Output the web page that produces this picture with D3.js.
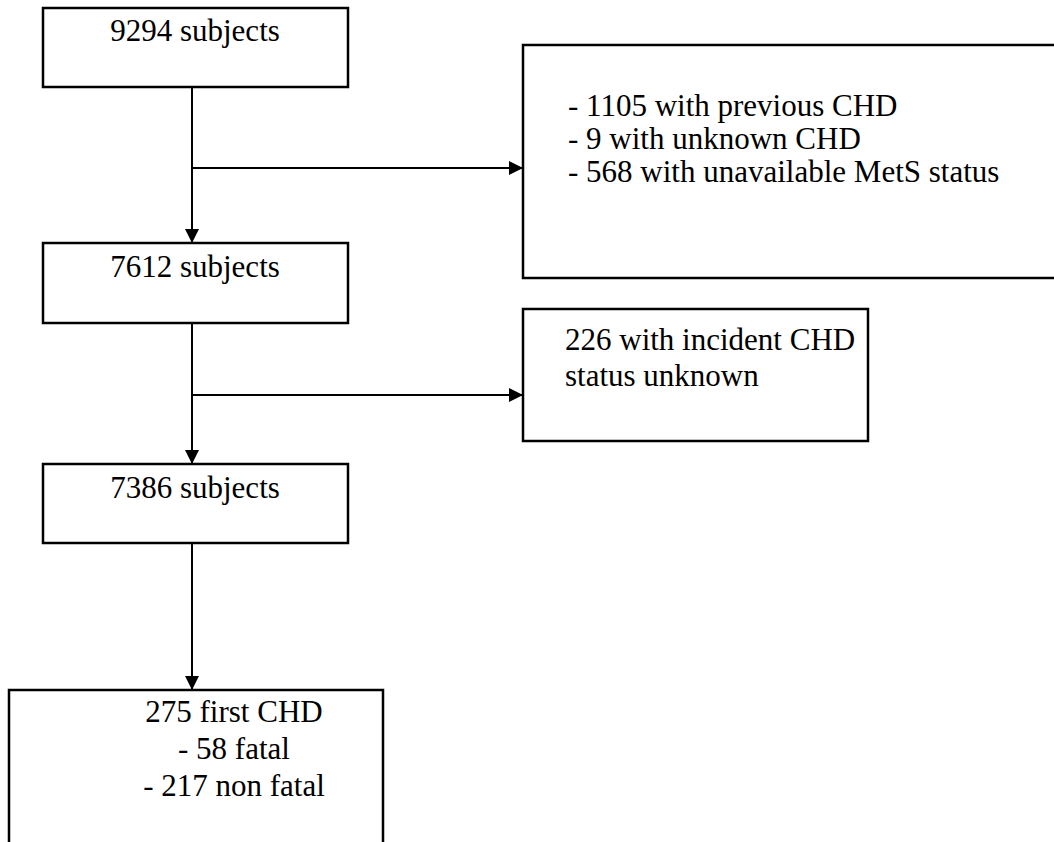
<!DOCTYPE html>
<html>
<head>
<meta charset="utf-8">
<script src="https://cdn.jsdelivr.net/npm/d3@7"></script>
<style>
  body { margin: 0; background: #fff; }
</style>
</head>
<body>
<script>
var w = 1054;
var h = 842;
var font = "'Liberation Serif', 'Times New Roman', Times, serif";

// boxes of the flow: id, label lines, text alignment
var boxIds = ["all", "excl1", "step2", "excl2", "step3", "outcome"];
var boxLines = [
    ["9294 subjects"],
    ["- 1105 with previous CHD", "- 9 with unknown CHD", "- 568 with unavailable MetS status"],
    ["7612 subjects"],
    ["226 with incident CHD", "status unknown"],
    ["7386 subjects"],
    ["275 first CHD", "- 58 fatal", "- 217 non fatal"]
];
var boxAlign = ["middle", "start", "middle", "start", "middle", "middle"];

// box geometry (pixels)
var boxX = [43, 523, 43, 523, 43, 9];
var boxY = [8, 45, 243, 309, 464, 690];
var boxW = [305, 540, 305, 345, 305, 374];
var boxH = [79, 233, 80, 132, 79, 170];
var textX = [195, 568, 195, 565, 195, 234];
var textY = [41, 116, 277, 350, 498, 722];
var lineH = [34, 33, 34, 36, 34, 37];

// connectors: main flow (vertical) and exclusions (horizontal)
var downLinks = [["all", "step2"], ["step2", "step3"], ["step3", "outcome"]];
var sideLinks = [["all", "excl1", 168], ["step2", "excl2", 395]];
var trunkX = 192;

var svg = d3.select("body")
    .append("svg")
    .attr("width", w)
    .attr("height", h);

svg.append("defs")
    .append("marker")
    .attr("id", "arrow")
    .attr("viewBox", "0 0 10 10")
    .attr("refX", 10)
    .attr("refY", 5)
    .attr("markerUnits", "userSpaceOnUse")
    .attr("markerWidth", 14)
    .attr("markerHeight", 15)
    .attr("orient", "auto")
    .append("path")
    .attr("d", "M0,0 L10,5 L0,10 Z")
    .attr("fill", "#000");

var boxes = boxIds.map(function (id, i) {
    return {
        id: id, lines: boxLines[i], align: boxAlign[i],
        x: boxX[i], y: boxY[i], w: boxW[i], h: boxH[i],
        tx: textX[i], ty: textY[i], lh: lineH[i]
    };
});
var byId = {};
boxes.forEach(function (b) { byId[b.id] = b; });

var line = d3.line();

// vertical links
svg.selectAll("path.down")
    .data(downLinks)
    .enter()
    .append("path")
    .attr("class", "down")
    .attr("d", function (d) {
        var a = byId[d[0]], b = byId[d[1]];
        return line([[trunkX, a.y + a.h], [trunkX, b.y]]);
    })
    .attr("stroke", "#000")
    .attr("stroke-width", 2)
    .attr("fill", "none")
    .attr("marker-end", "url(#arrow)");

// horizontal exclusion links
svg.selectAll("path.side")
    .data(sideLinks)
    .enter()
    .append("path")
    .attr("class", "side")
    .attr("d", function (d) {
        var b = byId[d[1]];
        return line([[trunkX, d[2]], [b.x, d[2]]]);
    })
    .attr("stroke", "#000")
    .attr("stroke-width", 2)
    .attr("fill", "none")
    .attr("marker-end", "url(#arrow)");

var g = svg.selectAll("g.box")
    .data(boxes)
    .enter()
    .append("g")
    .attr("class", "box");

g.append("rect")
    .attr("x", function (d) { return d.x; })
    .attr("y", function (d) { return d.y; })
    .attr("width", function (d) { return d.w; })
    .attr("height", function (d) { return d.h; })
    .attr("fill", "none")
    .attr("stroke", "#000")
    .attr("stroke-width", 2.5);

g.each(function (d) {
    d3.select(this).selectAll("text")
        .data(d.lines)
        .enter()
        .append("text")
        .attr("x", d.tx)
        .attr("y", function (t, i) { return d.ty + i * d.lh; })
        .attr("text-anchor", d.align)
        .attr("font-family", font)
        .attr("font-size", 31)
        .attr("fill", "#000")
        .text(function (t) { return t; });
});
</script>
</body>
</html>
